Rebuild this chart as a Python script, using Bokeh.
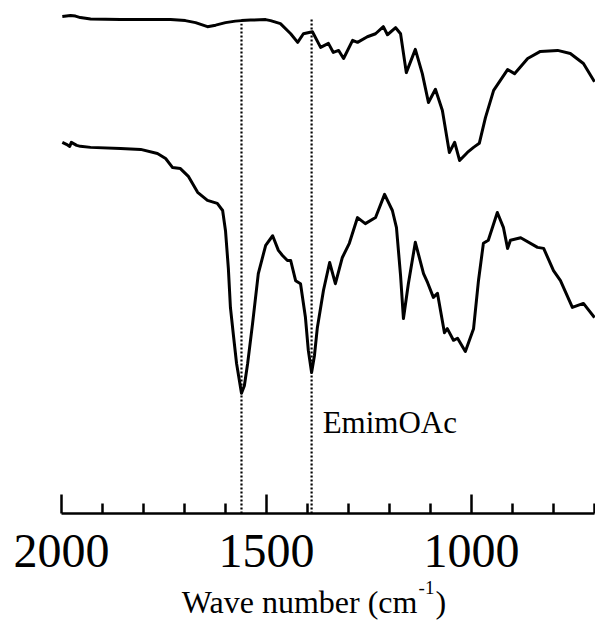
from bokeh.plotting import figure
from bokeh.layouts import column
from bokeh.models import Range1d, FixedTicker, CustomJSTickFormatter
from bokeh.core.properties import value
from bokeh.embed import file_html
from bokeh.resources import INLINE

# Upper spectrum (wavenumber, cm-1 ; relative intensity)
top_wn = [1998, 1978, 1966, 1954, 1929, 1856, 1783, 1734, 1698, 1673, 1644, 1624,
          1600, 1576, 1561, 1539, 1502, 1490, 1466, 1441, 1424, 1410, 1388, 1368,
          1349, 1337, 1324, 1312, 1290, 1278, 1254, 1234, 1215, 1205, 1185, 1173,
          1159, 1137, 1120, 1105, 1088, 1071, 1054, 1041, 1029, 1010, 995, 981,
          966, 946, 912, 895, 863, 832, 790, 759, 727, 700]
top_val = [98.4, 98.6, 98.5, 98.2, 97.9, 97.8, 97.8, 97.8, 97.6, 97.2, 96.4, 96.7,
           97.2, 97.5, 97.6, 97.7, 97.8, 97.6, 97.0, 95.0, 93.3, 95.0, 95.4, 92.3,
           93.1, 91.3, 91.7, 90.1, 93.7, 93.3, 94.4, 95.0, 96.4, 94.8, 96.2, 95.0,
           87.3, 91.9, 87.1, 81.4, 84.0, 79.8, 71.5, 73.5, 69.9, 71.5, 72.5, 73.3,
           78.4, 83.8, 87.9, 87.1, 90.1, 91.5, 91.7, 91.1, 89.1, 85.5]

# Lower spectrum (EmimOAc)
bot_wn = [1998, 1988, 1980, 1976, 1963, 1954, 1929, 1856, 1807, 1766, 1746, 1729,
          1710, 1690, 1668, 1644, 1620, 1607, 1600, 1593, 1588, 1580, 1573, 1561,
          1554, 1546, 1534, 1520, 1502, 1485, 1471, 1461, 1449, 1441, 1429, 1417,
          1405, 1398, 1390, 1383, 1376, 1361, 1346, 1332, 1315, 1298, 1278, 1259,
          1234, 1212, 1193, 1183, 1173, 1166, 1154, 1137, 1117, 1107, 1093, 1083,
          1066, 1059, 1044, 1034, 1015, 995, 983, 971, 959, 937, 922, 912,
          905, 880, 839, 824, 800, 783, 754, 727, 700]
bot_val = [73.5, 73.1, 72.7, 73.5, 72.9, 72.7, 72.5, 72.3, 72.1, 71.3, 70.3, 68.5,
           68.3, 66.7, 63.6, 62.0, 61.4, 60.0, 56.0, 48.5, 40.8, 34.8, 29.7, 23.8,
           25.3, 29.7, 37.6, 47.5, 53.1, 55.0, 52.1, 51.1, 50.1, 50.1, 46.1, 45.5,
           38.8, 32.3, 27.9, 31.3, 36.8, 44.2, 49.7, 45.5, 50.7, 53.5, 58.6, 57.4,
           58.6, 63.2, 60.0, 56.6, 47.1, 38.6, 45.5, 53.7, 47.5, 45.7, 42.8, 43.6,
           35.8, 36.6, 34.3, 34.7, 32.1, 36.6, 46.1, 53.5, 54.1, 59.6, 56.6, 52.5,
           54.1, 54.6, 52.7, 52.5, 48.1, 46.1, 40.8, 41.6, 38.8]

# Marker lines
marker_wn = [1561, 1390]
marker_top = [97.0, 97.8]

major_ticks = [2000, 1500, 1000]
major_labels = ["2000", "1500", "1000"]
minor_ticks = [1900, 1800, 1700, 1600, 1400, 1300, 1200, 1100, 900, 800, 700]

sample_label = "EmimOAc"
title_main = "Wave number (cm"
title_sup = "-1"
title_close = ")"

FONT = "Liberation Serif"
W = 595
AX_L, AX_R = 61, 594          # pixel span of the 2000..700 axis
X0, X1 = 2000, 700
upp = (X0 - X1) / (AX_R - AX_L)
x_range = Range1d(X0 + AX_L * upp, X1 - (W - AX_R) * upp)

p = figure(width=W, height=517, output_backend="svg", toolbar_location=None,
           title=None, x_range=x_range, y_range=Range1d(0, 100),
           y_axis_location=None, min_border_left=0, min_border_right=0,
           min_border_top=8, min_border_bottom=4)
p.outline_line_color = None
p.grid.visible = False

for wn, top in zip(marker_wn, marker_top):
    p.line([wn, wn], [0, top], line_color="black", line_width=2.2, line_dash="2 2")

p.line(top_wn, top_val, line_color="black", line_width=3, line_join="round")
p.line(bot_wn, bot_val, line_color="black", line_width=3, line_join="round")

p.text(x=[1363], y=[18.0], text=[sample_label], text_font=value(FONT),
       text_font_size="31px", text_color="black", text_baseline="alphabetic",
       text_align="left")

ax = p.xaxis[0]
ax.bounds = (X1, X0)
ax.ticker = FixedTicker(ticks=major_ticks, minor_ticks=minor_ticks)
ax.formatter = CustomJSTickFormatter(code="return ''")
ax.axis_line_width = 2.5
ax.axis_line_color = "black"
ax.major_tick_line_width = 2.5
ax.minor_tick_line_width = 2.5
ax.major_tick_in = 19
ax.major_tick_out = 0
ax.minor_tick_in = 10
ax.minor_tick_out = 0
ax.major_label_text_font_size = "1px"
ax.major_label_standoff = 0

# Tick-label and axis-title strip below, on the same wavenumber scale
p2 = figure(width=W, height=107, output_backend="svg", toolbar_location=None,
            title=None, x_range=x_range, y_range=Range1d(0, 107),
            x_axis_location=None, y_axis_location=None,
            min_border_left=0, min_border_right=0, min_border_top=0,
            min_border_bottom=0)
p2.outline_line_color = None
p2.grid.visible = False

p2.text(x=major_ticks, y=[74] * len(major_ticks), text=major_labels,
        text_font=value(FONT), text_font_size="48px", text_color="black",
        text_baseline="alphabetic", text_align="center")
p2.text(x=[1132], y=[23], text=[title_main], text_font=value(FONT),
        text_font_size="32px", text_color="black", text_baseline="alphabetic",
        text_align="right")
p2.text(x=[1129], y=[37], text=[title_sup], text_font=value(FONT),
        text_font_size="19px", text_color="black", text_baseline="alphabetic",
        text_align="left")
p2.text(x=[1088], y=[23], text=[title_close], text_font=value(FONT),
        text_font_size="32px", text_color="black", text_baseline="alphabetic",
        text_align="left")

layout = column(p, p2, spacing=0)
open("out.html", "w").write(file_html(layout, INLINE))
